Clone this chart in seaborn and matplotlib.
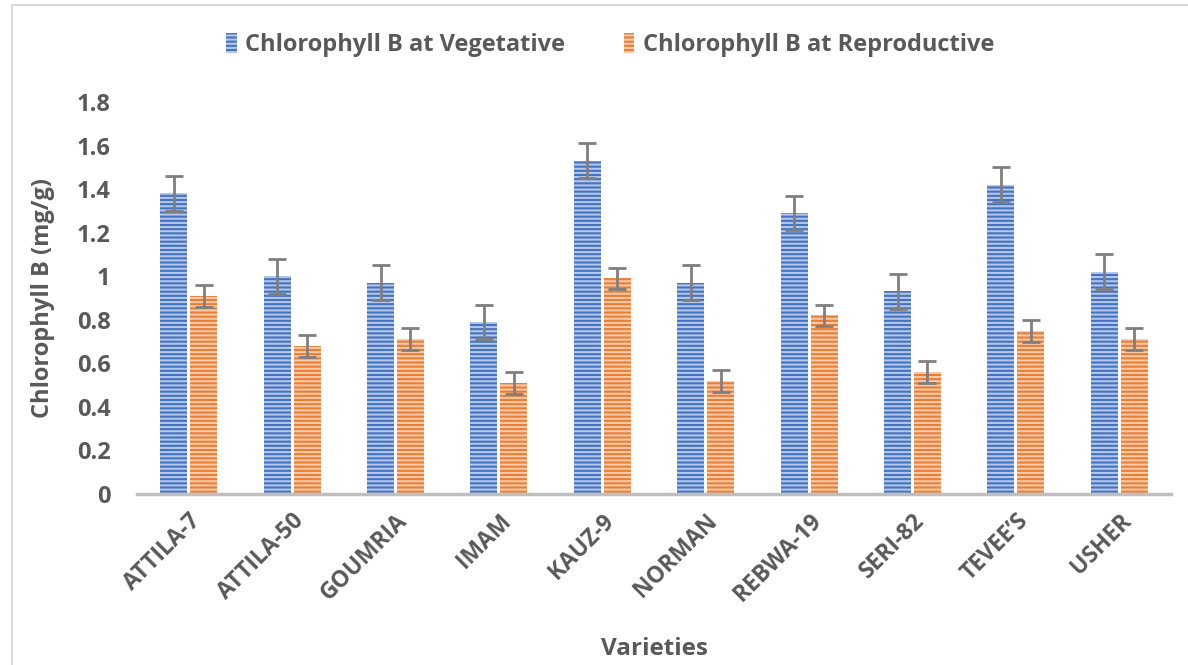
import matplotlib
matplotlib.use("Agg")
import matplotlib.pyplot as plt
import seaborn as sns
import pandas as pd
import numpy as np
from matplotlib.patches import Rectangle

varieties = ["ATTILA-7", "ATTILA-50", "GOUMRIA", "IMAM", "KAUZ-9",
             "NORMAN", "REBWA-19", "SERI-82", "TEVEE\u2019S", "USHER"]
vegetative = [1.38, 1.00, 0.97, 0.79, 1.53, 0.97, 1.29, 0.93, 1.42, 1.02]
reproductive = [0.91, 0.68, 0.71, 0.51, 0.99, 0.52, 0.82, 0.56, 0.75, 0.71]
veg_err = [0.08] * 10
rep_err = [0.05] * 10
series = ["Chlorophyll B at Vegetative", "Chlorophyll B at Reproductive"]
yticks = [0, 0.2, 0.4, 0.6, 0.8, 1, 1.2, 1.4, 1.6, 1.8]
ytick_labels = ["0", "0.2", "0.4", "0.6", "0.8", "1", "1.2", "1.4", "1.6", "1.8"]

df = pd.DataFrame({
    "Variety": varieties * 2,
    "Value": vegetative + reproductive,
    "Series": [series[0]] * 10 + [series[1]] * 10,
})

sns.set_style("white")
plt.rcParams["font.family"] = ["Open Sans", "DejaVu Sans"]
plt.rcParams["hatch.linewidth"] = 1.5

TXT = "#595959"
face = {series[0]: "#4472C4", series[1]: "#ED7D31"}
stripe = {series[0]: "#B4C7E7", series[1]: "#F8CBAD"}
HATCH = "----"

fig = plt.figure(figsize=(11.88, 6.65), dpi=100)
ax = fig.add_axes([137 / 1188, 1 - 494 / 665, (1171 - 137) / 1188, (494 - 102) / 665])

sns.barplot(data=df, x="Variety", y="Value", hue="Series", order=varieties,
            hue_order=series, palette=face, saturation=1, width=0.58, gap=0.1,
            errorbar=None, ax=ax, legend=False)

errs = {series[0]: veg_err, series[1]: rep_err}
vals = {series[0]: vegetative, series[1]: reproductive}
for cont, s in zip(ax.containers, series):
    xs = []
    for p in cont.patches:
        p.set_edgecolor(stripe[s])
        p.set_linewidth(0)
        p.set_hatch(HATCH)
        xs.append(p.get_x() + p.get_width() / 2)
    ax.errorbar(xs, vals[s], yerr=errs[s], fmt="none", ecolor="#7F7F7F",
                elinewidth=2, capsize=6.5, capthick=2, zorder=5)

ax.set_ylim(0, 1.8)
ax.set_xlim(-0.5, len(varieties) - 0.5)
ax.set_yticks(yticks)
ax.set_yticklabels(ytick_labels)
ax.tick_params(axis="y", length=0, pad=19, labelsize=17, labelcolor=TXT)
ax.tick_params(axis="x", length=0, pad=11, labelsize=16.5, labelcolor=TXT)
for lab in ax.get_yticklabels():
    lab.set_fontweight("bold")
for lab in ax.get_xticklabels():
    lab.set_fontweight("bold")
    lab.set_rotation(45)
    lab.set_ha("right")
    lab.set_rotation_mode("anchor")

for sp in ["top", "right", "left"]:
    ax.spines[sp].set_visible(False)
ax.spines["bottom"].set_color("#BFBFBF")
ax.spines["bottom"].set_linewidth(2.5)

ax.set_ylabel("Chlorophyll B (mg/g)", fontsize=17, fontweight="bold", color=TXT, labelpad=16)
ax.set_xlabel("Varieties", fontsize=17.5, fontweight="bold", color=TXT, labelpad=22)

handles = [Rectangle((0, 0), 1, 1, facecolor=face[s], edgecolor=stripe[s],
                     linewidth=0, hatch=HATCH) for s in series]
leg = fig.legend(handles, series, loc="center", bbox_to_anchor=(610 / 1188, 1 - 45 / 665),
                 ncol=2, frameon=False, fontsize=17, handlelength=0.45, handleheight=0.9,
                 handletextpad=0.35, columnspacing=2.5)
for t in leg.get_texts():
    t.set_color(TXT)
    t.set_fontweight("bold")

fig.add_artist(Rectangle((12 / 1188, -0.1), 1.2, 1 - 5 / 665 + 0.1, transform=fig.transFigure,
                         fill=False, edgecolor="#D9D9D9", linewidth=1.5))

fig.savefig("out.png", dpi=100)
